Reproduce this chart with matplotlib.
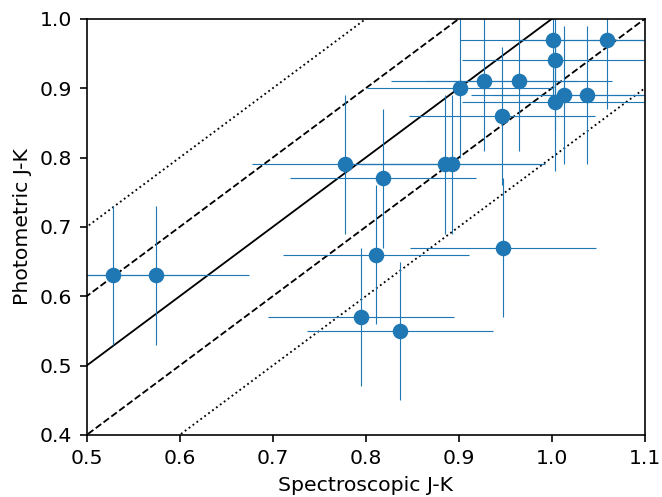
import numpy as np
import matplotlib
matplotlib.use("Agg")
import matplotlib.pyplot as plt

# spectroscopic vs photometric J-K colours
spec_jk = [0.528, 0.575, 0.778, 0.819, 0.885, 0.893, 0.901, 0.927, 0.965,
           0.946, 1.001, 1.003, 1.059, 1.004, 1.013, 1.038,
           0.795, 0.837, 0.811, 0.948]
phot_jk = [0.63, 0.63, 0.79, 0.77, 0.79, 0.79, 0.90, 0.91, 0.91,
           0.86, 0.97, 0.94, 0.97, 0.88, 0.89, 0.89,
           0.57, 0.55, 0.66, 0.67]
spec_err = [0.1] * len(spec_jk)
phot_err = [0.1] * len(phot_jk)

# one-to-one line and offsets
offsets = [0.0, 0.1, -0.1, 0.2, -0.2]
styles = ['-', '--', '--', ':', ':']

dpi = 147
fig, ax = plt.subplots(figsize=(662 / dpi, 497 / dpi), dpi=dpi)
fig.subplots_adjust(left=0.131, right=0.974, top=0.962, bottom=0.125)

xx = np.array([0.4, 1.2])
for off, ls in zip(offsets, styles):
    ax.plot(xx, xx + off, color='k', ls=ls, lw=0.9)

ax.errorbar(spec_jk, phot_jk, xerr=spec_err, yerr=phot_err, fmt='o',
            color='tab:blue', ms=6.6, elinewidth=0.55, ecolor='tab:blue')

ax.set_xlim(0.5, 1.1)
ax.set_ylim(0.4, 1.0)
ax.set_xlabel('Spectroscopic J-K')
ax.set_ylabel('Photometric J-K')

fig.savefig('out.png')
